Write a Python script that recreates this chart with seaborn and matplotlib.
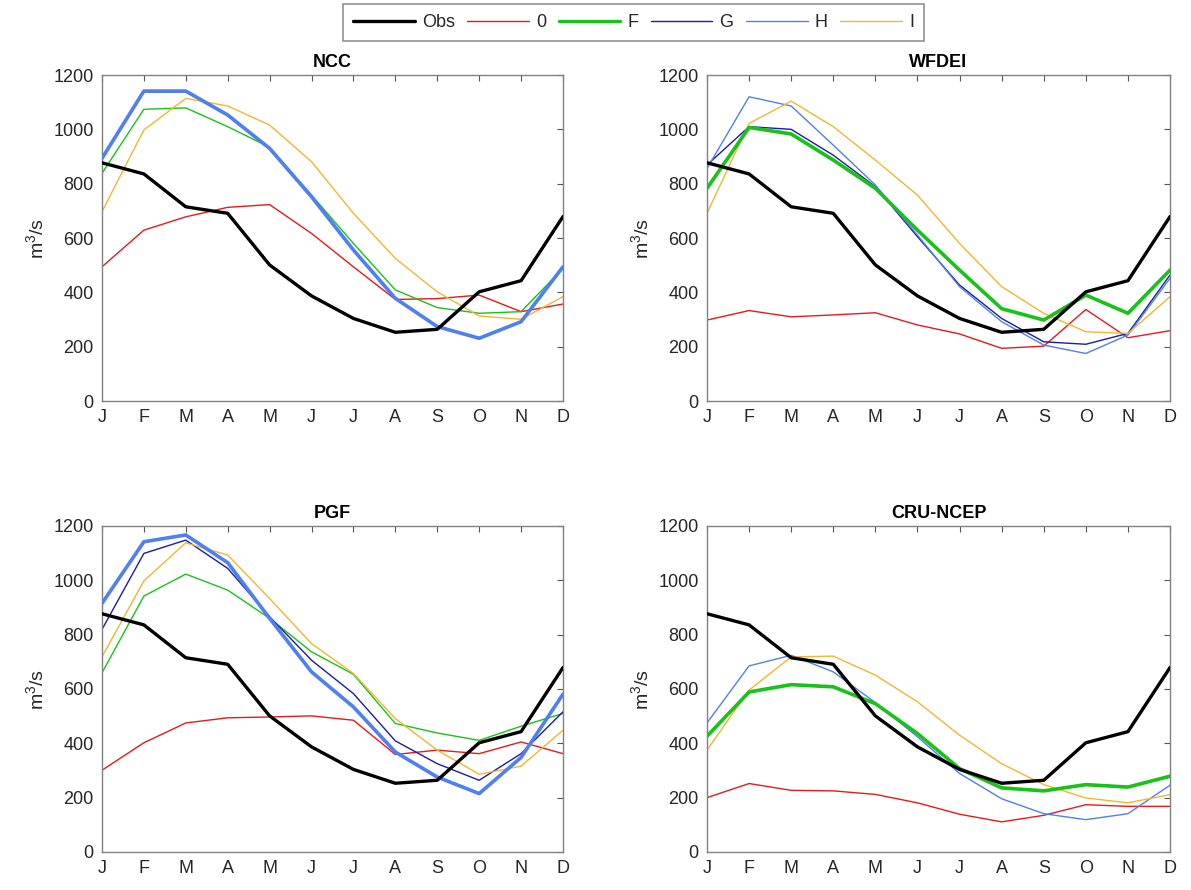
import numpy as np
import pandas as pd
import matplotlib
matplotlib.use("Agg")
import matplotlib.pyplot as plt
from matplotlib.lines import Line2D
import seaborn as sns

months = ["J", "F", "M", "A", "M", "J", "J", "A", "S", "O", "N", "D"]
panels = ["NCC", "WFDEI", "PGF", "CRU-NCEP"]
series = ["Obs", "0", "F", "G", "H", "I"]

obs = [877, 836, 715, 691, 501, 387, 304, 253, 264, 402, 443, 679]

ncc_0 = [494, 629, 678, 713, 723, 617, 494, 374, 377, 390, 329, 357]
ncc_F = [838, 1074, 1079, 1010, 934, 758, 580, 409, 344, 323, 329, 488]
ncc_G = [890, 1138, 1138, 1050, 928, 750, 556, 378, 276, 233, 292, 492]
ncc_H = [893, 1141, 1141, 1053, 930, 752, 556, 378, 274, 231, 292, 494]
ncc_I = [697, 998, 1114, 1086, 1016, 881, 691, 525, 402, 313, 301, 384]

wfdei_0 = [298, 333, 310, 317, 325, 280, 247, 194, 202, 337, 233, 259]
wfdei_F = [783, 1007, 983, 887, 783, 629, 482, 340, 298, 390, 323, 482]
wfdei_G = [869, 1010, 1000, 905, 789, 605, 427, 304, 218, 209, 249, 464]
wfdei_H = [856, 1120, 1086, 942, 795, 611, 421, 292, 206, 175, 243, 452]
wfdei_I = [691, 1022, 1104, 1010, 887, 758, 580, 421, 323, 255, 249, 384]

pgf_0 = [301, 402, 475, 494, 497, 501, 485, 359, 375, 362, 405, 362]
pgf_F = [659, 942, 1023, 964, 860, 737, 654, 473, 438, 411, 463, 510]
pgf_G = [819, 1099, 1148, 1044, 866, 706, 583, 409, 325, 264, 362, 516]
pgf_H = [915, 1142, 1167, 1065, 860, 663, 534, 368, 276, 215, 348, 581]
pgf_I = [718, 998, 1138, 1093, 933, 767, 657, 491, 375, 286, 316, 448]

cru_0 = [200, 252, 227, 225, 212, 181, 139, 111, 135, 174, 168, 168]
cru_F = [426, 589, 616, 608, 546, 436, 307, 236, 225, 248, 239, 279]
cru_G = [428, 590, 615, 606, 545, 435, 306, 235, 224, 246, 238, 277]
cru_H = [475, 685, 724, 663, 550, 424, 289, 196, 141, 119, 141, 246]
cru_I = [375, 596, 718, 721, 651, 553, 430, 325, 248, 199, 181, 211]

data = {
    "NCC": [obs, ncc_0, ncc_F, ncc_G, ncc_H, ncc_I],
    "WFDEI": [obs, wfdei_0, wfdei_F, wfdei_G, wfdei_H, wfdei_I],
    "PGF": [obs, pgf_0, pgf_F, pgf_G, pgf_H, pgf_I],
    "CRU-NCEP": [obs, cru_0, cru_F, cru_G, cru_H, cru_I],
}
thick_series = {"NCC": "H", "WFDEI": "F", "PGF": "H", "CRU-NCEP": "F"}

colors = {"Obs": "#000000", "0": "#E8191C", "F": "#19C219", "G": "#1B1BA8",
          "H": "#4F7FF0", "I": "#F2B630"}

rows = []
for p in panels:
    for s, vals in zip(series, data[p]):
        for i, v in enumerate(vals):
            rows.append({"panel": p, "series": s, "month": i, "value": v})
df = pd.DataFrame(rows)

sns.set_theme(style="white")
plt.rcParams["font.family"] = ["Liberation Sans", "DejaVu Sans"]
plt.rcParams["mathtext.fontset"] = "custom"
plt.rcParams["mathtext.rm"] = "Liberation Sans"

fig = plt.figure(figsize=(11.91, 8.9), dpi=100)
fig.patch.set_facecolor("white")

positions = {
    "NCC": [0.0856, 0.5494, 0.3871, 0.3663],
    "WFDEI": [0.5936, 0.5494, 0.3888, 0.3663],
    "PGF": [0.0856, 0.0427, 0.3871, 0.3663],
    "CRU-NCEP": [0.5936, 0.0427, 0.3888, 0.3663],
}

textc = "#262626"
for p in panels:
    ax = fig.add_axes(positions[p])
    sub = df[df.panel == p]
    for s in series:
        d = sub[sub.series == s]
        if s == "Obs":
            lw, z = 2.4, 4
        elif s == thick_series[p]:
            lw, z = 2.6, 3
        else:
            lw, z = 1.0, 2
        sns.lineplot(data=d, x="month", y="value", ax=ax, color=colors[s],
                     linewidth=lw, legend=False, zorder=z)
    ax.set_xlim(0, 11)
    ax.set_ylim(0, 1200)
    ax.set_xticks(range(12))
    ax.set_xticklabels(months)
    ax.set_yticks(range(0, 1201, 200))
    ax.set_xlabel("")
    ax.set_ylabel("m$^3$/s", fontsize=14, color=textc, labelpad=4)
    ax.set_title(p, fontsize=13, fontweight="bold", color="black", pad=6)
    ax.tick_params(axis="both", which="both", direction="in", length=4,
                   width=0.8, color="#555555", labelsize=13, labelcolor=textc,
                   top=True, right=True, pad=6)
    for sp in ax.spines.values():
        sp.set_color("#808080")
        sp.set_linewidth(1.0)

handles = []
for s in series:
    lw = 2.4 if s in ("Obs", "F") else 1.0
    handles.append(Line2D([0], [0], color=colors[s], linewidth=lw))
leg = fig.legend(handles, series, loc="upper center", bbox_to_anchor=(0.532, 0.995),
                 ncol=6, frameon=True, fontsize=13, handlelength=3.4,
                 columnspacing=0.7, handletextpad=0.4, borderpad=0.55,
                 borderaxespad=0.0, fancybox=False)
leg.get_frame().set_edgecolor("#777777")
leg.get_frame().set_linewidth(1.2)
for t in leg.get_texts():
    t.set_color(textc)

fig.savefig("out.png", dpi=100, facecolor="white")
